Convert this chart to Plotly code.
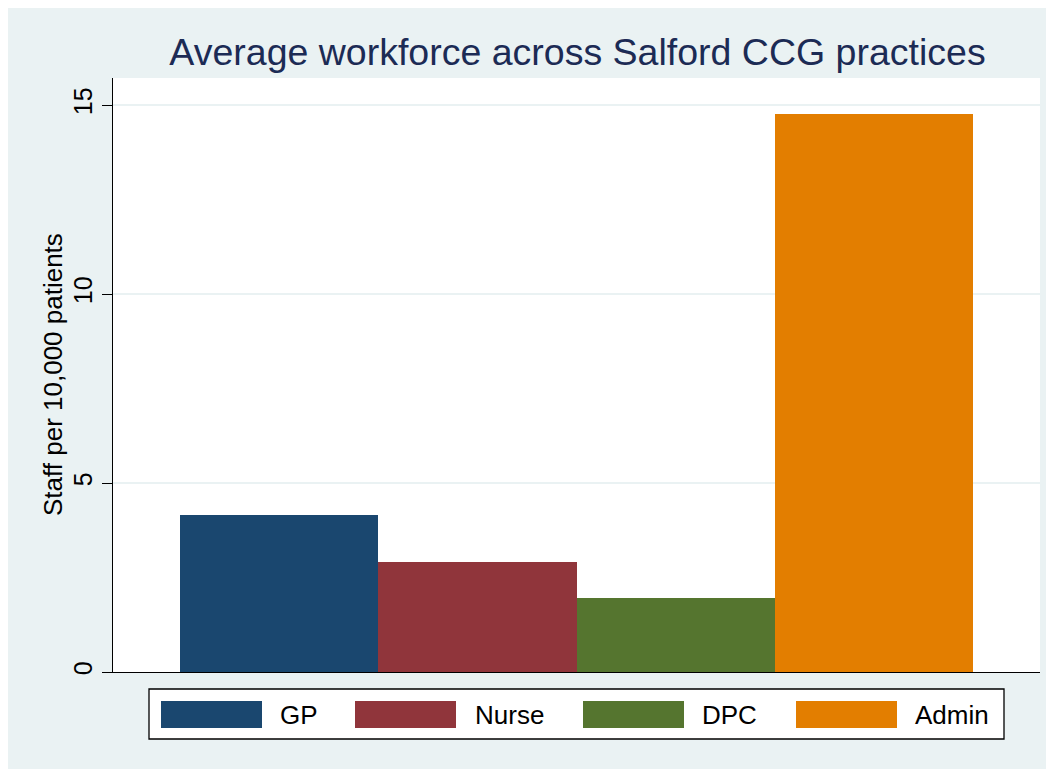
import plotly.graph_objects as go

categories = ["GP", "Nurse", "DPC", "Admin"]
values = [4.15, 2.92, 1.97, 14.75]
colors = ["#1A476F", "#90353B", "#55752F", "#E37E00"]
y_ticks = [0, 5, 10, 15]

# page has an 8px body margin; figure is sized to fill the rest of the window
OFF = 8
W, H = 1054 - OFF, 769 - OFF
L, R, T, B = 113 - OFF, 1054 - 1040, 78 - OFF, 769 - 672
PW, PH = W - L - R, H - T - B

def px(x):  # reference-screen x -> paper
    return (x - OFF - L) / PW

def py(y):  # reference-screen y -> paper
    return (T + PH - (y - OFF)) / PH

FONT = "Liberation Sans, Arial, sans-serif"
BG = "#EAF2F3"

fig = go.Figure()
fig.add_trace(go.Bar(
    x=list(range(len(categories))), y=values, width=1,
    marker=dict(color=colors, line=dict(width=0)),
    showlegend=False, hoverinfo="skip",
))

shapes = [
    dict(type="rect", xref="paper", yref="paper", x0=px(149), x1=px(1004), y0=py(739), y1=py(689),
         fillcolor="white", line=dict(color="black", width=1.3), layer="above"),
]
annotations = [
    dict(text="Staff per 10,000 patients", xref="paper", yref="paper", x=px(53), y=py(375),
         xanchor="center", yanchor="middle", textangle=-90, showarrow=False,
         font=dict(family=FONT, size=26, color="black")),
]
sw_x = [161, 355, 583, 796]
lab_x = [278, 473, 700, 913]
for i, name in enumerate(categories):
    shapes.append(dict(type="rect", xref="paper", yref="paper",
                       x0=px(sw_x[i]), x1=px(sw_x[i] + 101), y0=py(728), y1=py(701),
                       fillcolor=colors[i], line=dict(width=0), layer="above"))
    annotations.append(dict(text=name, xref="paper", yref="paper", x=px(lab_x[i]), y=py(715),
                            xanchor="left", yanchor="middle", showarrow=False,
                            font=dict(family=FONT, size=26, color="black")))

fig.update_layout(
    width=W, height=H,
    margin=dict(l=L, r=R, t=T, b=B, pad=0),
    paper_bgcolor=BG, plot_bgcolor="white",
    title=dict(text="Average workforce across Salford CCG practices",
               x=px(577.5), xref="paper", xanchor="center",
               y=1 - (52 - OFF) / H, yref="container", yanchor="middle",
               font=dict(family=FONT, size=37.5, color="#1C2B55")),
    shapes=shapes, annotations=annotations,
    bargap=0,
    xaxis=dict(range=[-0.8375, 3.8375], showticklabels=False, ticks="",
               showgrid=False, zeroline=False, showline=True, linecolor="black", linewidth=1.3),
    yaxis=dict(range=[0, PH / 37.8], tickvals=y_ticks, ticktext=[str(v) for v in y_ticks],
               tickangle=-90, ticks="outside", ticklen=10, tickcolor="black", tickwidth=1.3,
               tickfont=dict(family=FONT, size=25, color="black"),
               showgrid=True, gridcolor=BG, gridwidth=1.5, zeroline=False,
               showline=True, linecolor="black", linewidth=1.3),
)

fig.write_html("out.html")
